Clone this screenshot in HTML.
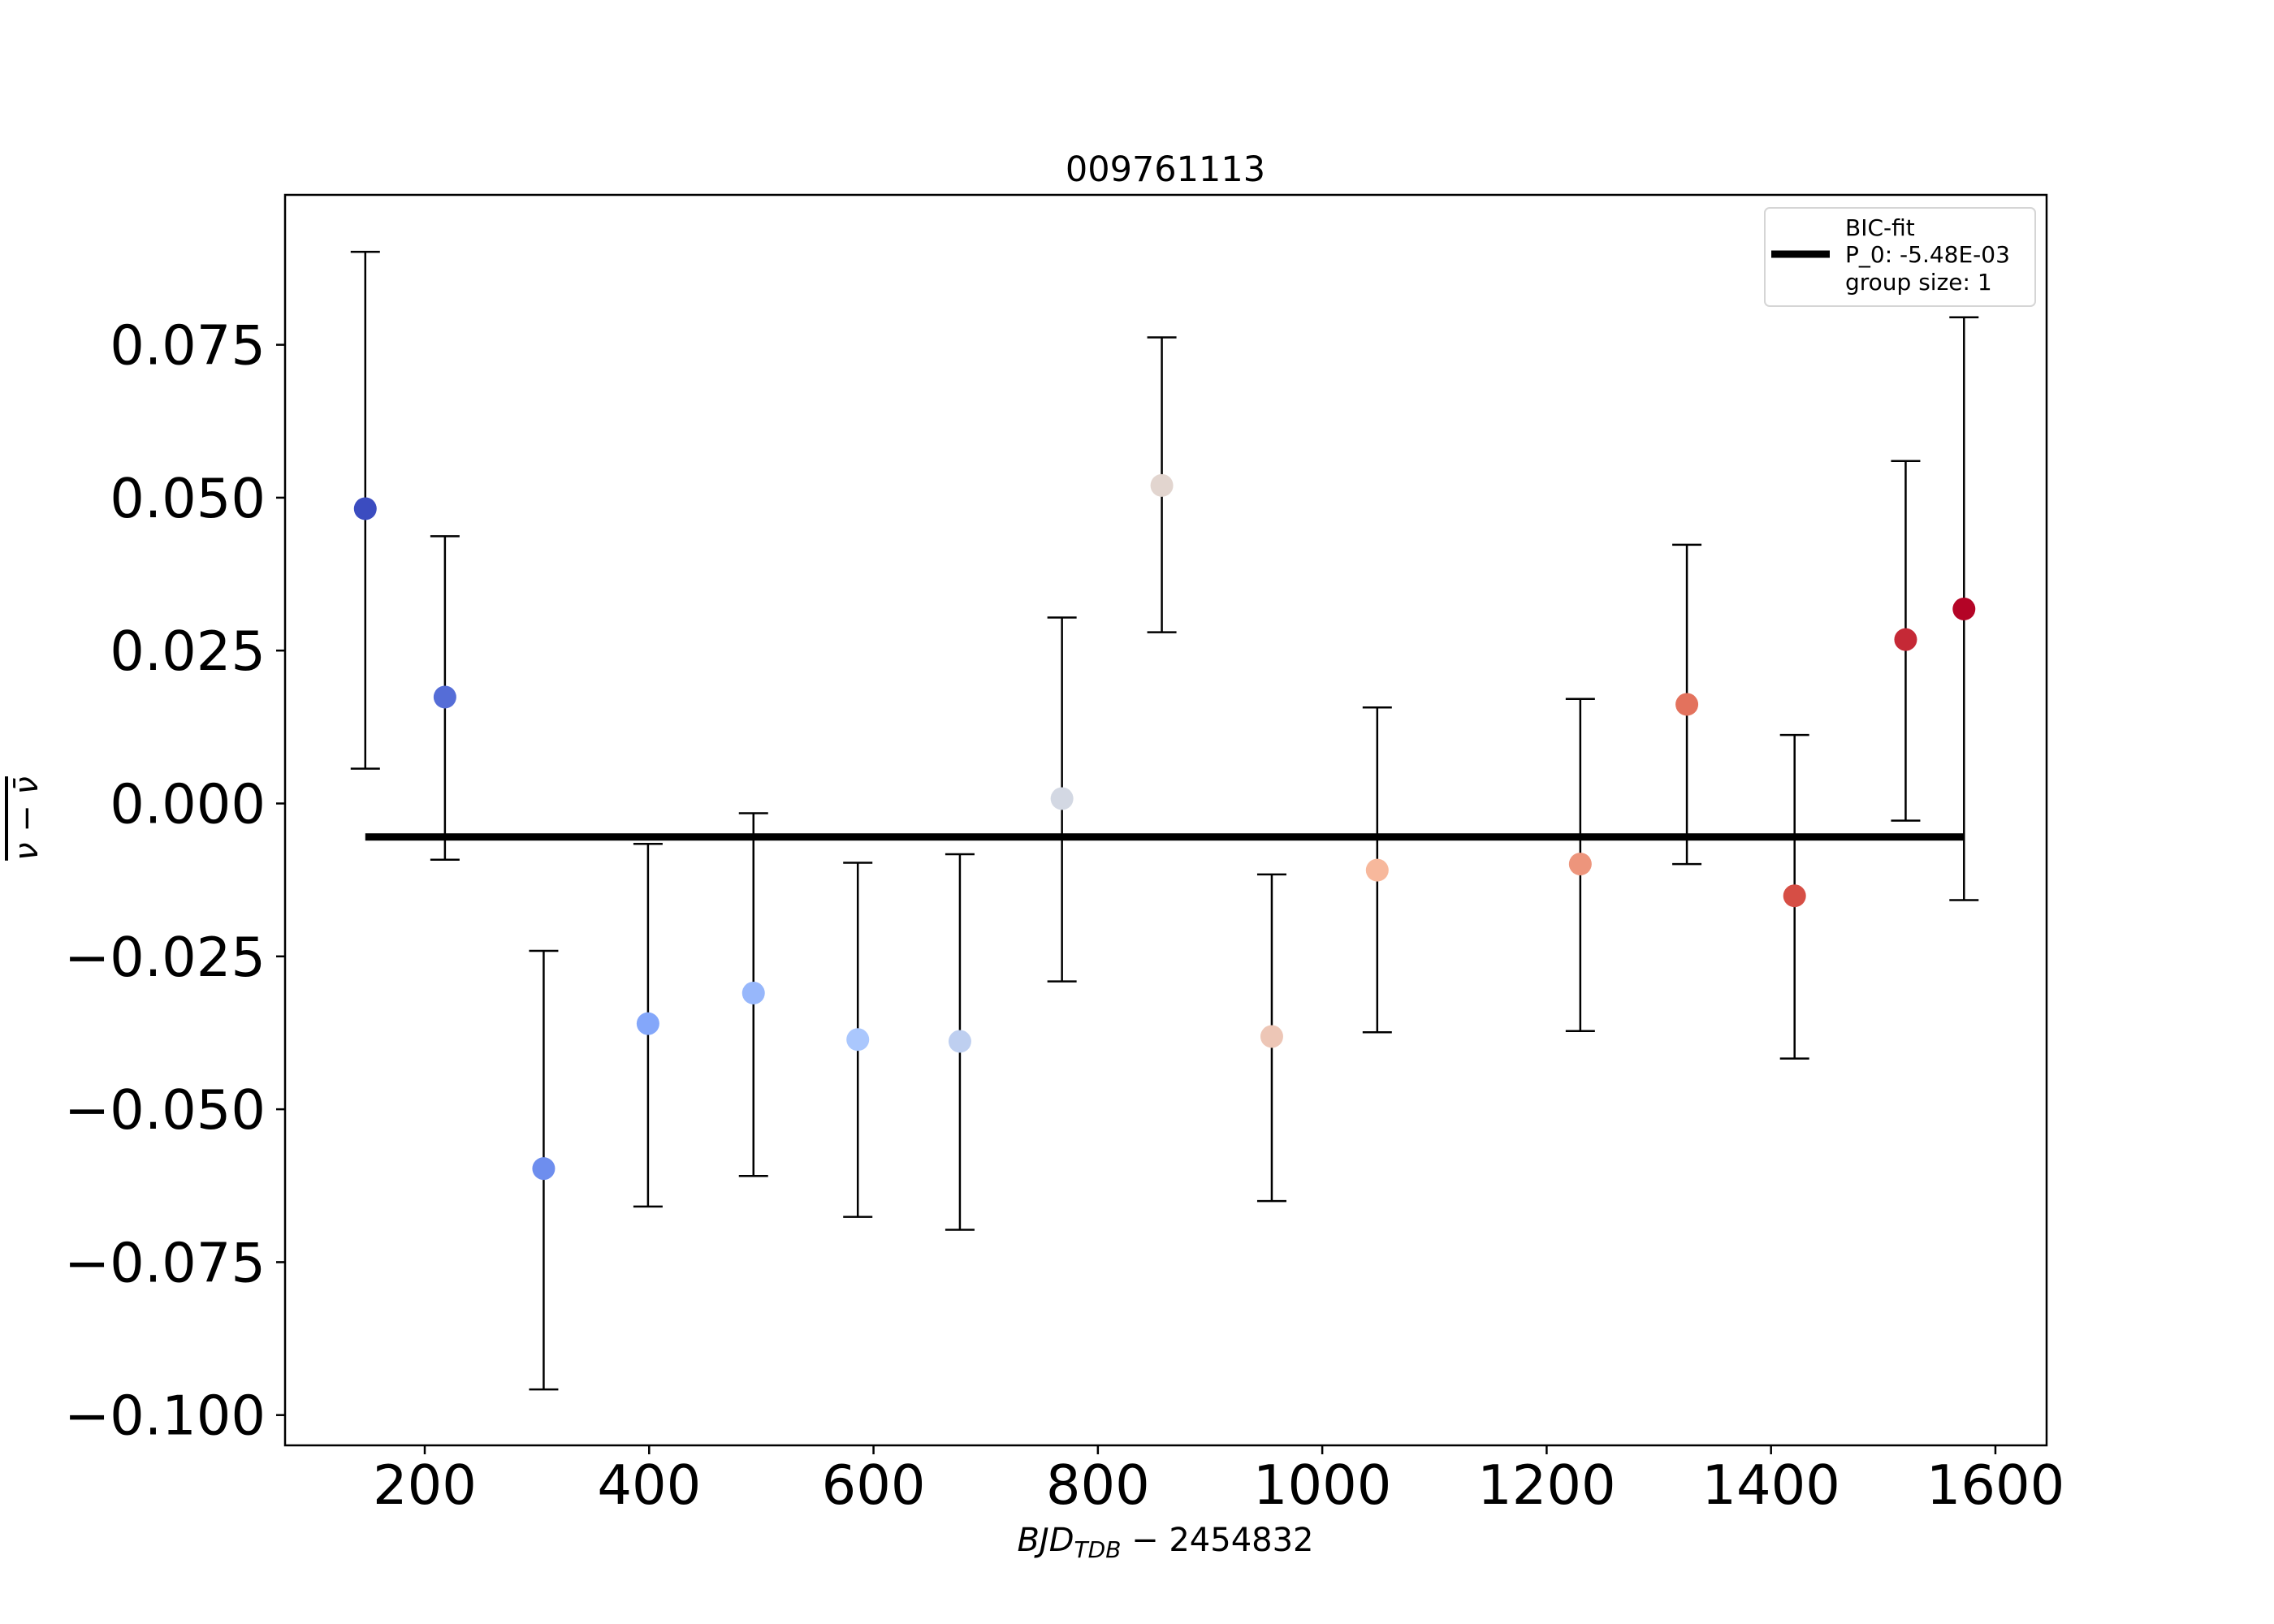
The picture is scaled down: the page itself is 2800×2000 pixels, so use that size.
<!DOCTYPE html>
<html><head><meta charset="utf-8"><style>
html,body{margin:0;padding:0;background:#fff;}
svg{display:block;font-family:"DejaVu Sans","Liberation Sans",sans-serif;}
</style></head><body>
<svg id="chart" width="2800" height="2000" viewBox="0 0 2800 2000" xmlns="http://www.w3.org/2000/svg">
<rect width="2800" height="2000" fill="#fff"/>
<text x="1435" y="223" font-size="43" text-anchor="middle">009761113</text>
<g id="plot"></g>
<rect x="351" y="240" width="2169" height="1540" fill="none" stroke="#000" stroke-width="2.5"/>
<g id="xticks"></g><g id="yticks"></g>
<text x="1435" y="1910" font-size="40" text-anchor="middle"><tspan font-style="italic">BJD</tspan><tspan font-style="italic" font-size="28" dy="8">TDB</tspan><tspan dy="-8"> − 2454832</tspan></text>
<text transform="translate(46,1008) rotate(-90)" font-size="40" text-anchor="middle" font-style="italic" text-decoration="overline">ν − ν̄</text>
<g>
<rect x="2173" y="256" width="333" height="121" rx="6" fill="#fff" fill-opacity="0.8" stroke="#d5d5d5" stroke-width="2"/>
<line x1="2181" y1="313" x2="2253" y2="313" stroke="#000" stroke-width="9"/>
<text x="2272" y="290" font-size="28">BIC-fit</text>
<text x="2272" y="323" font-size="28">P_0: -5.48E-03</text>
<text x="2272" y="357" font-size="28">group size: 1</text>
</g>
</svg>
<script>
const times = [147,218,306,399,493,586,677,768,857,955,1049,1230,1325,1421,1520,1572];
const values = [0.0482,0.0174,-0.0597,-0.036,-0.031,-0.0386,-0.0389,0.0008,0.052,-0.0381,-0.0109,-0.0099,0.0162,-0.0151,0.0268,0.0318];
const errUpper = [0.0902,0.0437,-0.0241,-0.0066,-0.0016,-0.0097,-0.0083,0.0304,0.0762,-0.0116,0.0157,0.0171,0.0423,0.0112,0.056,0.0795];
const errLower = [0.0057,-0.0092,-0.0958,-0.0659,-0.0609,-0.0676,-0.0697,-0.0291,0.028,-0.065,-0.0374,-0.0372,-0.0099,-0.0417,-0.0028,-0.0158];
const fitValue = -0.00548;
const xTicks = [200,400,600,800,1000,1200,1400,1600];
const yTicks = [0.075,0.05,0.025,0,-0.025,-0.05,-0.075,-0.1];
const yTickLabels = ["0.075","0.050","0.025","0.000","\u22120.025","\u22120.050","\u22120.075","\u22120.100"];

const NS="http://www.w3.org/2000/svg";
function X(v){return 523+(v-200)*1.3814;}
function Y(v){return 989.5-v*7532;}
function mk(tag,attrs,parent){const e=document.createElementNS(NS,tag);for(const k in attrs)e.setAttribute(k,attrs[k]);parent.appendChild(e);return e;}
const stops=[[59,76,192],[123,159,249],[170,199,253],[221,220,220],[247,184,156],[222,96,77],[180,4,38]];
function coolwarm(t){const p=t*(stops.length-1);const i=Math.min(Math.floor(p),stops.length-2);const f=p-i;const a=stops[i],b=stops[i+1];return "rgb("+a.map((c,k)=>Math.round(c+(b[k]-c)*f)).join(",")+")";}
const plot=document.getElementById('plot');
times.forEach((t,i)=>{
  const x=X(t);
  const g=mk('g',{},plot);
  
  
  mk('line',{x1:x,x2:x,y1:Y(errUpper[i]),y2:Y(errLower[i]),stroke:'#000','stroke-width':2.5},g);
  mk('line',{x1:x-18,x2:x+18,y1:Y(errUpper[i]),y2:Y(errUpper[i]),stroke:'#000','stroke-width':2.5},g);
  mk('line',{x1:x-18,x2:x+18,y1:Y(errLower[i]),y2:Y(errLower[i]),stroke:'#000','stroke-width':2.5},g);
});
times.forEach((t,i)=>{
  const c=mk('circle',{cx:X(t),cy:Y(values[i]),r:14,fill:coolwarm(i/(times.length-1))},plot);
  
  
});
const fl=mk('line',{x1:X(times[0]),x2:X(times[times.length-1]),y1:Y(fitValue),y2:Y(fitValue),stroke:'#000','stroke-width':9},plot);


const xt=document.getElementById('xticks');
xTicks.forEach(v=>{
  mk('line',{x1:X(v),x2:X(v),y1:1780,y2:1791,stroke:'#000','stroke-width':2.5},xt);
  const tx=mk('text',{x:X(v),y:1852,'font-size':67,'text-anchor':'middle'},xt);
  
  
  tx.textContent=v;
});
const yt=document.getElementById('yticks');
yTicks.forEach((v,i)=>{
  mk('line',{x1:340,x2:351,y1:Y(v),y2:Y(v),stroke:'#000','stroke-width':2.5},yt);
  const tx=mk('text',{x:327,y:Y(v)+24,'font-size':67,'text-anchor':'end'},yt);
  
  
  tx.textContent=yTickLabels[i];
});
</script>
</body></html>
